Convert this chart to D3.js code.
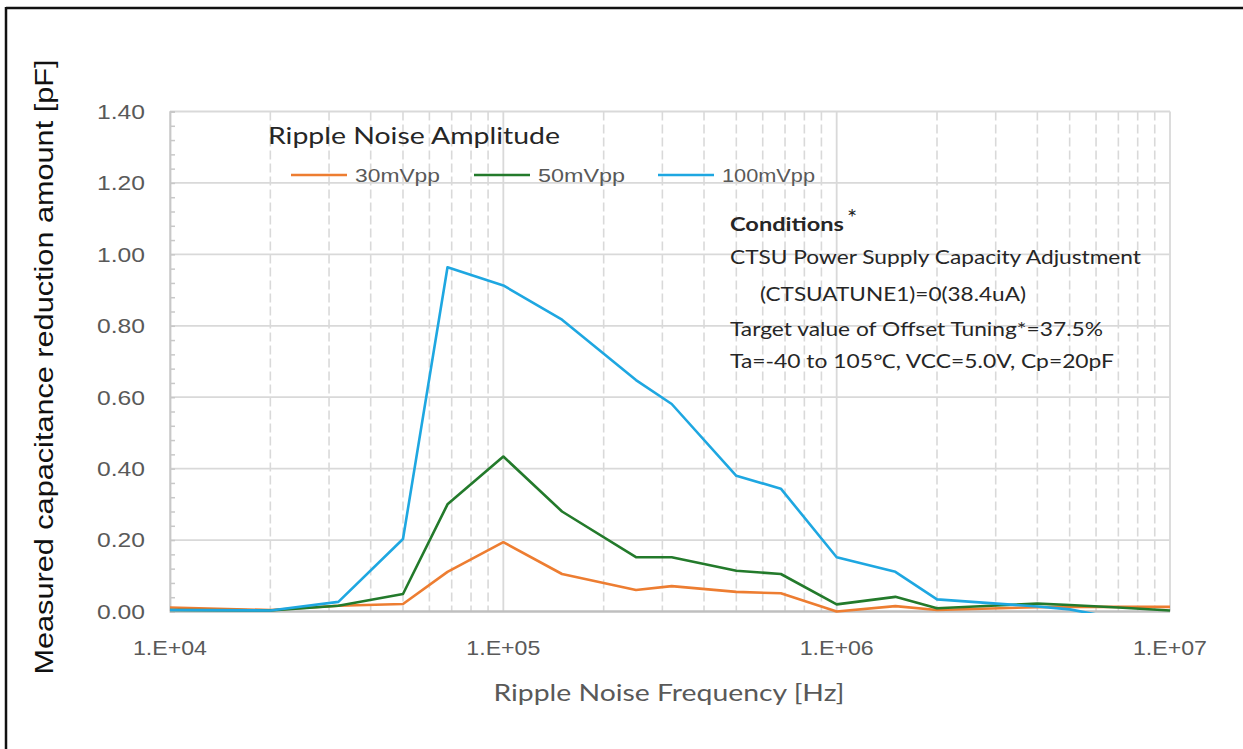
<!DOCTYPE html>
<html>
<head>
<meta charset="utf-8">
<script src="https://cdn.jsdelivr.net/npm/d3@7"></script>
<style>
  body { margin: 0; background: #fff; }
  svg { display: block; }
</style>
</head>
<body>
<div class="chart-container"></div>
<script>
// data
const freqs = [1e4, 2e4, 3.2e4, 5e4, 6.8e4, 1e5, 1.5e5, 2.5e5, 3.2e5, 5e5, 6.8e5, 1e6, 1.5e6, 2e6, 4e6, 5e6, 7e6, 1e7];
const amp30 = [0.011, 0.004, 0.016, 0.021, 0.111, 0.194, 0.105, 0.060, 0.071, 0.055, 0.051, 0.000, 0.015, 0.004, 0.012, 0.013, 0.013, 0.013];
const amp50 = [0.004, 0.003, 0.016, 0.049, 0.300, 0.434, 0.280, 0.152, 0.152, 0.114, 0.105, 0.020, 0.041, 0.009, 0.022, 0.018, 0.011, 0.003];
const amp100 = [0.004, 0.003, 0.027, 0.203, 0.964, 0.913, 0.817, 0.648, 0.581, 0.380, 0.344, 0.152, 0.111, 0.034, 0.014, 0.006, -0.020, -0.050];
const seriesNames = ['30mVpp', '50mVpp', '100mVpp'];
const seriesColors = ['#ed7d31', '#237a2b', '#1ea7e1'];
const yTicks = [0, 0.2, 0.4, 0.6, 0.8, 1.0, 1.2, 1.4];
const xTicks = [1e4, 1e5, 1e6, 1e7];
const conditionLines = [
  'CTSU Power Supply Capacity Adjustment',
  '(CTSUATUNE1)=0(38.4uA)',
  'Target value of Offset Tuning*=37.5%',
  'Ta=-40 to 105℃, VCC=5.0V, Cp=20pF'
];

const W = 1243, H = 749;
const margin = {top: 111.5, right: 73, bottom: 137.5, left: 170};
const chartW = W - margin.left - margin.right;
const chartH = H - margin.top - margin.bottom;
const grid = '#d9d9d9';
const tickFont = '"Liberation Sans", Arial, sans-serif';
const textFont = 'Lato, "Noto Sans", sans-serif';

// the picture's text runs wider than our fonts, so squeeze/stretch to the measured width
function fitWidth(sel, w) {
  sel.attr('textLength', w).attr('lengthAdjust', 'spacingAndGlyphs');
}

const svg = d3.select('.chart-container').append('svg')
  .attr('width', W).attr('height', H);

// outer frame (left and top only)
svg.append('line').attr('x1', 6).attr('x2', 6).attr('y1', 7).attr('y2', H)
  .attr('stroke', '#111').attr('stroke-width', 2.5);
svg.append('line').attr('x1', 6).attr('x2', W).attr('y1', 8).attr('y2', 8)
  .attr('stroke', '#111').attr('stroke-width', 2.5);

const g = svg.append('g').attr('transform', `translate(${margin.left},${margin.top})`);

const x = d3.scaleLog().domain([1e4, 1e7]).range([0, chartW]);
const y = d3.scaleLinear().domain([0, 1.4]).range([chartH, 0]);

// vertical grid: solid at decades, dashed in between
const minor = x.ticks().filter(d => !Number.isInteger(Math.round(Math.log10(d) * 1e6) / 1e6));
g.append('g').selectAll('line').data(minor).join('line')
  .attr('x1', d => x(d)).attr('x2', d => x(d))
  .attr('y1', 0).attr('y2', chartH)
  .attr('stroke', grid).attr('stroke-width', 1.6)
  .attr('stroke-dasharray', '9,4');
g.append('g').selectAll('line').data(xTicks).join('line')
  .attr('x1', d => x(d)).attr('x2', d => x(d))
  .attr('y1', 0).attr('y2', chartH)
  .attr('stroke', grid).attr('stroke-width', 1.8);

// horizontal grid
g.append('g').selectAll('line').data(yTicks.slice(1)).join('line')
  .attr('x1', 0).attr('x2', chartW)
  .attr('y1', d => y(d)).attr('y2', d => y(d))
  .attr('stroke', grid).attr('stroke-width', 1.8);

// y axis with inner minor ticks
const yAxis = d3.axisRight(y).tickValues(d3.range(0, 1.4001, 0.04)).tickSize(5).tickFormat('');
const yAxisDraw = g.append('g').call(yAxis);
yAxisDraw.select('.domain').attr('stroke', '#c8c8c8').attr('stroke-width', 1.8);
yAxisDraw.selectAll('.tick line').attr('stroke', '#c8c8c8').attr('stroke-width', 1.5);

// y labels
g.append('g').selectAll('text').data(yTicks).join('text')
  .attr('x', -25).attr('y', d => y(d)).attr('dy', '0.35em')
  .attr('text-anchor', 'end')
  .style('font-family', tickFont).style('font-size', '21px').style('fill', '#595959')
  .text(d => d3.format('.2f')(d))
  .call(fitWidth, 48);

// x labels
g.append('g').selectAll('text').data(xTicks).join('text')
  .attr('x', d => x(d)).attr('y', chartH + 36).attr('dy', '0.35em')
  .attr('text-anchor', 'middle')
  .style('font-family', tickFont).style('font-size', '21px').style('fill', '#595959')
  .text(d => '1.E+' + String(Math.round(Math.log10(d))).padStart(2, '0'))
  .call(fitWidth, 74);

// clip so the series stay in the plot area
svg.append('defs').append('clipPath').attr('id', 'plot-clip')
  .append('rect').attr('x', -2).attr('y', -2).attr('width', chartW + 4).attr('height', chartH + 3.5);

const line = d3.line().x(d => x(d[0])).y(d => y(d[1]));
const allSeries = [amp30, amp50, amp100];

// bottom axis line
g.append('line').attr('x1', 0).attr('x2', chartW).attr('y1', chartH).attr('y2', chartH)
  .attr('stroke', '#bfbfbf').attr('stroke-width', 2.6);

g.append('g').attr('clip-path', 'url(#plot-clip)')
  .selectAll('path').data(allSeries).join('path')
  .attr('d', s => line(freqs.map((f, i) => [f, s[i]])))
  .attr('fill', 'none')
  .attr('stroke', (s, i) => seriesColors[i])
  .attr('stroke-width', 2.6)
  .attr('stroke-linejoin', 'round');

// axis titles
svg.append('text')
  .attr('transform', `translate(44,${367}) rotate(-90)`)
  .attr('text-anchor', 'middle').attr('dy', '0.35em')
  .style('font-family', tickFont).style('font-size', '25px').style('fill', '#111')
  .text('Measured capacitance reduction amount [pF]')
  .call(fitWidth, 615);

svg.append('text')
  .attr('x', 669).attr('y', 693).attr('dy', '0.35em')
  .attr('text-anchor', 'middle')
  .style('font-family', textFont).style('font-size', '24px').style('fill', '#595959')
  .text('Ripple Noise Frequency [Hz]')
  .call(fitWidth, 351);

// legend
const legend = svg.append('g');
legend.append('text').attr('x', 268).attr('y', 144)
  .style('font-family', textFont).style('font-size', '23px').style('fill', '#262626')
  .text('Ripple Noise Amplitude')
  .call(fitWidth, 292);
const legendX = [291, 474, 658];
const legendW = [85, 87, 93];
seriesNames.forEach((name, i) => {
  legend.append('line')
    .attr('x1', legendX[i]).attr('x2', legendX[i] + 56)
    .attr('y1', 175).attr('y2', 175)
    .attr('stroke', seriesColors[i]).attr('stroke-width', 2.6);
  legend.append('text').attr('x', legendX[i] + 64).attr('y', 175).attr('dy', '0.35em')
    .style('font-family', tickFont).style('font-size', '19px').style('fill', '#595959')
    .text(name)
    .call(fitWidth, legendW[i]);
});

// conditions note
const note = svg.append('g').style('font-family', textFont).style('fill', '#262626');
note.append('text').attr('x', 730).attr('y', 231)
  .style('font-size', '19px').style('font-weight', 'bold')
  .text('Conditions')
  .call(fitWidth, 114);
note.append('text').attr('x', 847).attr('y', 226)
  .style('font-size', '24px')
  .text('*');
const noteY = [264, 301, 336, 368];
const noteX = [730, 760, 730, 730];
const noteW = [411, 266, 373, 384];
conditionLines.forEach((t, i) => {
  note.append('text').attr('x', noteX[i]).attr('y', noteY[i])
    .style('font-size', '19px').text(t)
    .call(fitWidth, noteW[i]);
});
</script>
</body>
</html>
